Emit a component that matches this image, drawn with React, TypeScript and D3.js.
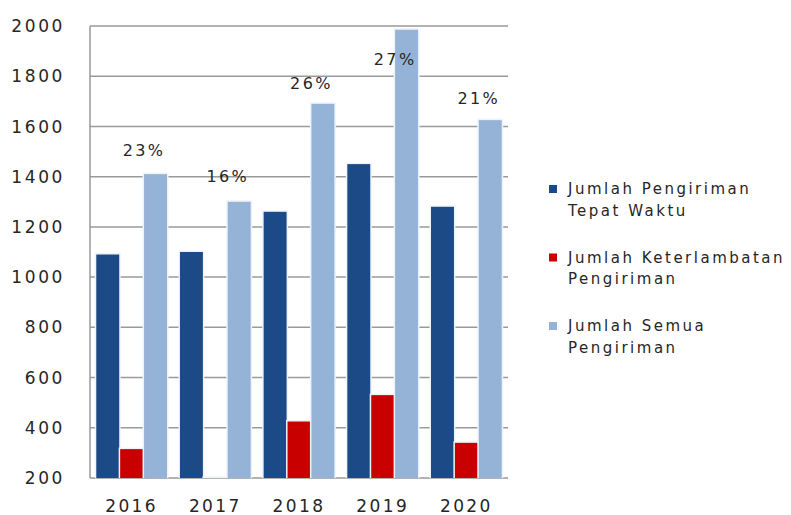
import React from "react";
import * as d3 from "d3";

const years = ["2016", "2017", "2018", "2019", "2020"];
const onTime = [1090, 1100, 1260, 1450, 1280];
const late = [315, 200, 425, 530, 340];
const total = [1410, 1300, 1690, 1985, 1625];
const pctLabels = ["23%", "16%", "26%", "27%", "21%"];
const pctLabelValues = [1506, 1400, 1773, 1869, 1713];
const yTicks = [200, 400, 600, 800, 1000, 1200, 1400, 1600, 1800, 2000];
const seriesNames = [
  ["Jumlah Pengiriman", "Tepat Waktu"],
  ["Jumlah Keterlambatan", "Pengiriman"],
  ["Jumlah Semua", "Pengiriman"],
];
const colors = ["#1C4A87", "#C80000", "#95B3D7"];

export default function App() {
  const W = 791, H = 515;
  const left = 90, right = 508, top = 26, bottom = 478;
  const x = d3.scaleBand<string>().domain(years).range([left, right]).paddingInner(0.155).paddingOuter(0.075);
  const inner = d3.scaleBand<number>().domain([0, 1, 2]).range([0, x.bandwidth()]).paddingInner(0.04);
  const y = d3.scaleLinear().domain([200, 2000]).range([bottom, top]);
  const series = [onTime, late, total];
  const font = "'DejaVu Sans', Verdana, sans-serif";

  return (
    <svg width={W} height={H} style={{ position: "absolute", left: 0, top: 0, background: "#fff" }}>
      <rect width={W} height={H} fill="#fff" />
      {yTicks.map((t) => (
        <line key={t} x1={left} x2={right} y1={y(t)} y2={y(t)} stroke="#9a9a9a" strokeWidth={1.5} />
      ))}
      <line x1={left} x2={left} y1={top} y2={bottom} stroke="#9a9a9a" strokeWidth={1.5} />
      {years.map((yr, i) =>
        series.map((s, k) => {
          const v = s[i];
          const bx = (x(yr) as number) + (inner(k) as number);
          const by = y(v);
          return (
            <g key={yr + k}>
              <rect x={bx - 1.5} y={by - 1.5} width={inner.bandwidth() + 3} height={bottom - by + 1.5} fill="#eef3fa" />
              <rect x={bx} y={by} width={inner.bandwidth()} height={Math.max(0, bottom - by)} fill={colors[k]} />
            </g>
          );
        })
      )}
      {yTicks.map((t) => (
        <text key={t} x={65} y={y(t)} dy="0.36em" textAnchor="end" fontFamily={font} fontSize={17} letterSpacing={2.6} fill="#262626">
          {t}
        </text>
      ))}
      {years.map((yr) => (
        <text key={yr} x={(x(yr) as number) + x.bandwidth() / 2} y={506} dy="0.36em" textAnchor="middle" fontFamily={font} fontSize={17} letterSpacing={2.4} fill="#262626">
          {yr}
        </text>
      ))}
      {years.map((yr, i) => (
        <text key={"p" + yr} x={(x(yr) as number) + (inner(1) as number) + inner.bandwidth() + 1} y={y(pctLabelValues[i])} dy="0.36em" textAnchor="middle" fontFamily={font} fontSize={16} letterSpacing={2.4} fill="#262626">
          {pctLabels[i]}
        </text>
      ))}
      {seriesNames.map((lines, k) => {
        const ly = 189 + k * 68.5;
        return (
          <g key={k}>
            <rect x={549} y={ly - 4} width={8} height={8} fill={colors[k]} />
            {lines.map((ln, j) => (
              <text key={j} x={568} y={ly + j * 21.5} dy="0.36em" fontFamily={font} fontSize={15} letterSpacing={2.5} fill="#262626">
                {ln}
              </text>
            ))}
          </g>
        );
      })}
    </svg>
  );
}
